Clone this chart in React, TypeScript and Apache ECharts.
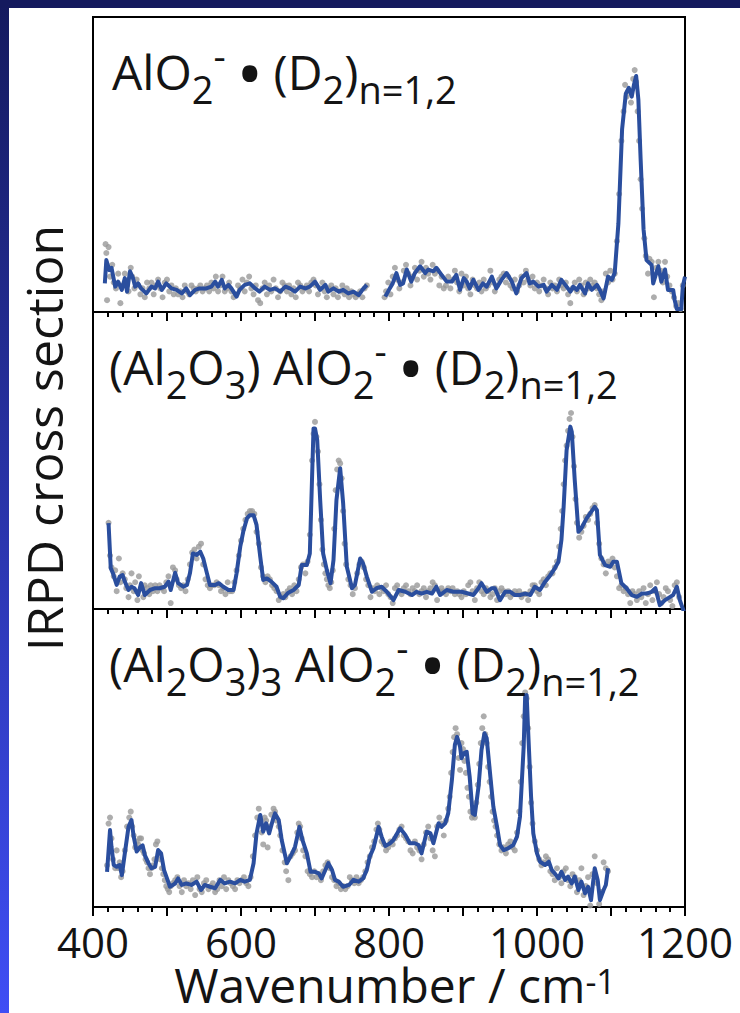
import React, { useEffect, useRef } from "react";
import * as echarts from "echarts";

type Pt = [number, number];

// ---- axis / labels ----
const xMin = 400;
const xMax = 1200;
const xTickLabels = [400, 600, 800, 1000, 1200];
const xAxisTitle = "{a|Wavenumber / cm}{b|-1}";
const yAxisTitle = "IRPD cross section";
const panelTitles = [
  "{m|AlO}{s|2}{p|-}{sp| }{b|•}{sp| }{m|(D}{s|2}{m|)}{s|n=1,2}",
  "{m|(Al}{s|2}{m|O}{s|3}{m|) AlO}{s|2}{p|-}{sp| }{b|•}{sp| }{m|(D}{s|2}{m|)}{s|n=1,2}",
  "{m|(Al}{s|2}{m|O}{s|3}{m|)}{s|3}{m| AlO}{s|2}{p|-}{sp| }{b|•}{sp| }{m|(D}{s|2}{m|)}{s|n=1,2}",
];

// ---- panel 1: AlO2- (D2) ----
const p1LineA: Pt[] = [[416,9.7],[418,17.6],[422,14.2],[425,15],[430,8.6],[434,10.3],[439,7.5],[443,11.5],[446,6.9],[450,13.8],[454,11.5],[457,8.6],[461,9.7],[465,8],[472,6.3],[479,8.6],[484,8],[488,10.3],[493,7.5],[499,9.7],[506,8],[513,7.5],[520,6.3],[526,8],[531,5.7],[538,7.5],[544,8],[553,8],[560,8.6],[565,10.3],[569,8.6],[574,10.9],[578,8],[583,9.2],[587,8],[594,5.2],[598,7.5],[605,9.2],[612,9.7],[619,8],[625,6.9],[632,8.6],[639,7.5],[646,8],[653,6.9],[660,8.6],[666,8],[673,6.9],[680,8.6],[687,8],[693,8.6],[700,10.3],[707,7.5],[714,9.2],[718,6.9],[725,8],[732,6.9],[738,7.5],[745,6.3],[752,6.9],[759,5.7],[764,7.5],[770,9.2]];
const p1LineB: Pt[] = [[795,5.2],[801,8],[805,9.7],[810,13.2],[815,9.2],[819,9.7],[824,14.4],[830,10.3],[835,13.2],[842,15.5],[849,13.2],[853,14.4],[860,13.8],[864,15],[871,12.6],[878,10.3],[885,10.3],[891,12.6],[896,7.5],[901,11.5],[905,10.3],[909,8],[914,10.9],[921,7.5],[927,9.7],[932,8.6],[939,12],[945,8],[952,10.9],[959,13.2],[966,10.3],[972,6.3],[979,11.5],[986,13.2],[990,9.7],[995,10.3],[1002,8.6],[1009,9.2],[1013,6.9],[1020,9.2],[1027,7.5],[1033,10.9],[1040,8.6],[1045,6.9],[1049,8.6],[1054,7.5],[1058,9.2],[1065,6.3],[1069,9.7],[1074,7.5],[1081,9.2],[1085,7.5],[1090,4.6],[1096,12],[1101,10.9],[1105,13.2],[1110,30],[1115,62],[1120,74],[1124,76],[1128,73],[1131,77],[1134,80],[1137,72],[1140,52],[1144,28],[1148,17.6],[1155,15.9],[1157,9.7],[1164,15.5],[1168,10.3],[1173,14.4],[1177,7.5],[1184,7.5],[1186,4.1],[1189,1],[1195,1],[1197,8.6],[1200,12]];
const p1Dots: Pt[] = [[417,23],[418,20],[419,4],[421,22],[423,12],[426,16],[428,10],[431,8],[434,13],[437,3],[440,9],[443,13],[446,9],[448,7],[451,15],[453,12],[456,8],[459,11],[461,9],[464,6],[467,8],[470,5],[473,10],[476,8],[479,10],[482,6],[485,9],[488,11],[491,8],[494,5],[497,10],[500,11],[503,7],[506,9],[509,6],[512,8],[515,6],[518,7],[521,5],[524,9],[527,7],[530,6],[533,9],[536,8],[539,7],[542,8],[545,9],[548,7],[551,8],[554,9],[557,7],[560,10],[563,8],[566,12],[569,7],[572,9],[575,12],[578,7],[581,8],[584,10],[587,7],[590,5],[593,6],[596,9],[599,8],[602,11],[605,7],[608,10],[611,12],[614,8],[617,6],[620,9],[623,4],[626,3],[629,8],[632,10],[635,6],[638,9],[641,7],[644,11],[647,8],[650,5],[653,7],[656,10],[659,9],[662,7],[665,9],[668,6],[671,8],[674,5],[677,10],[680,9],[683,7],[686,8],[689,9],[692,7],[695,10],[698,11],[701,9],[704,6],[707,8],[710,10],[713,7],[716,5],[719,8],[722,9],[725,6],[728,8],[731,5],[734,7],[737,9],[740,6],[743,8],[746,5],[749,7],[752,6],[755,5],[758,6],[761,7],[764,5],[767,8],[770,9],
[794,5],[796,7],[799,10],[802,6],[805,12],[808,15],[811,11],[814,8],[817,10],[820,14],[823,16],[826,13],[829,9],[832,12],[835,15],[838,11],[841,14],[844,17],[847,12],[850,15],[853,13],[856,11],[859,16],[862,13],[865,14],[868,9],[871,12],[874,8],[877,9],[880,12],[883,8],[886,11],[889,14],[892,10],[895,7],[898,13],[901,9],[904,12],[907,8],[910,6],[913,11],[916,9],[919,8],[922,10],[925,7],[928,11],[931,8],[934,9],[937,14],[940,10],[943,7],[946,9],[949,11],[952,12],[955,13],[958,10],[961,12],[964,9],[967,8],[970,11],[973,7],[976,9],[979,12],[982,10],[985,14],[988,11],[991,9],[994,12],[997,8],[1000,10],[1003,7],[1006,9],[1009,11],[1012,8],[1015,6],[1018,10],[1021,8],[1024,9],[1027,7],[1030,11],[1033,9],[1036,8],[1039,10],[1042,6],[1045,3],[1048,8],[1051,10],[1054,7],[1057,11],[1060,9],[1063,6],[1066,10],[1069,8],[1072,11],[1075,9],[1078,10],[1081,8],[1084,6],[1087,4],[1090,7],[1093,13],[1096,10],[1099,14],[1102,11],[1105,13],[1108,24],[1111,40],[1114,58],[1117,68],[1119,77],[1121,73],[1124,75],[1127,71],[1130,79],[1132,82],[1134,78],[1136,68],[1138,58],[1140,45],[1142,35],[1145,25],[1147,19],[1150,13],[1152,18],[1155,17],[1158,5],[1161,15],[1164,17],[1167,14],[1170,10],[1173,17],[1176,12],[1179,9],[1182,7],[1185,5],[1188,2],[1191,3],[1194,1],[1197,9]];

// ---- panel 2: (Al2O3) AlO2- (D2) ----
const p2Line: Pt[] = [[421,28.9],[424,13.7],[427,12],[432,8.1],[436,10.9],[440,11.4],[443,9.2],[448,6.4],[452,7.5],[456,7],[461,4.7],[465,8.7],[470,4.7],[477,6.4],[484,7],[490,7],[497,7.5],[502,9.2],[505,6.4],[511,12.2],[515,8.7],[522,7.5],[527,8.1],[531,12],[535,18.7],[540,18.2],[545,19.3],[549,17],[554,12],[558,8.1],[565,8.1],[570,8.7],[576,7.5],[583,6.4],[590,6.4],[594,12],[599,21],[603,26],[608,30.5],[612,31.6],[617,31.6],[621,28.3],[626,17.6],[630,9.8],[635,10.3],[641,9.2],[648,7.5],[653,4.1],[657,3.6],[664,5.5],[671,6.4],[678,8.1],[682,14.8],[689,14.8],[693,18.7],[698,60.8],[700,60.8],[703,56.9],[707,36.7],[711,18.7],[716,13.1],[721,8.7],[725,16.5],[729,36.7],[734,47.4],[738,35.7],[743,14.2],[750,7],[754,8.1],[761,17],[765,15.3],[770,10.9],[777,5.8],[783,7],[790,7.5],[797,5.8],[806,3],[813,6.4],[822,5.8],[831,4.7],[837,5.8],[844,5.2],[851,5.8],[858,5.2],[864,7.5],[869,4.7],[878,6.4],[887,5.8],[898,5.8],[907,5.2],[914,4.7],[921,7],[925,8.7],[932,5.8],[939,7],[943,7],[950,3],[957,5.8],[964,5.8],[970,4.7],[977,4.7],[984,5.2],[991,4.7],[997,7.5],[1004,6.4],[1011,9.2],[1018,11.4],[1024,13.7],[1029,15.9],[1033,23.2],[1036,34.4],[1040,53.5],[1045,61.4],[1047,59.7],[1051,43.4],[1056,26],[1060,27.2],[1067,30.5],[1078,34.4],[1081,33.3],[1085,18.2],[1092,14.8],[1099,14.2],[1103,15.9],[1108,15.9],[1114,8.7],[1121,7],[1128,4.7],[1135,4.1],[1142,5.2],[1148,5.2],[1155,5.8],[1160,7],[1166,1.3],[1173,3],[1180,4.1],[1184,4.7],[1189,7.5],[1193,3],[1200,-2]];
const p2Dots: Pt[] = [[421,29],[423,18],[425,14],[428,11],[430,13],[432,6],[435,17],[437,9],[440,12],[443,10],[445,7],[448,4],[450,8],[452,12],[455,6],[457,9],[460,3],[462,11],[465,7],[468,4],[470,8],[473,7],[476,5],[478,8],[481,6],[484,8],[487,6],[490,8],[493,7],[496,6],[499,9],[502,11],[505,2],[508,14],[511,13],[513,10],[516,8],[519,7],[522,8],[525,6],[528,10],[531,15],[534,19],[537,20],[540,17],[543,21],[546,22],[549,15],[552,10],[555,8],[558,7],[561,8],[564,8],[567,9],[570,8],[573,6],[576,7],[579,5],[582,9],[585,6],[588,6],[591,9],[594,13],[597,18],[600,23],[603,27],[606,30],[609,32],[612,33],[615,33],[618,32],[621,26],[624,22],[627,14],[630,11],[633,9],[636,11],[639,10],[642,8],[645,7],[648,6],[651,3],[654,4],[657,5],[660,4],[663,6],[666,7],[669,5],[672,8],[675,6],[678,10],[681,14],[684,15],[687,12],[690,16],[693,25],[696,50],[698,59],[700,63],[702,58],[704,53],[706,42],[708,30],[710,20],[712,15],[714,12],[716,10],[718,8],[720,7],[722,9],[724,13],[726,27],[728,40],[730,47],[732,50],[734,49],[736,44],[738,33],[740,22],[742,15],[745,10],[748,8],[751,5],[754,7],[757,12],[760,15],[763,16],[766,14],[769,10],[772,8],[775,4],[778,7],[781,6],[784,8],[787,5],[790,7],[793,6],[796,8],[799,5],[802,4],[805,2],[808,7],[811,8],[814,6],[817,5],[820,7],[823,8],[826,6],[829,5],[832,7],[835,6],[838,8],[841,5],[844,6],[847,7],[850,4],[853,6],[856,7],[859,9],[862,8],[865,3],[868,6],[871,7],[874,6],[877,5],[880,7],[883,6],[886,7],[889,5],[892,6],[895,5],[898,4],[901,6],[904,5],[907,8],[910,9],[913,6],[916,3],[919,7],[922,9],[925,6],[928,5],[931,7],[934,6],[937,4],[940,5],[943,7],[946,3],[949,6],[952,7],[955,6],[958,5],[961,6],[964,4],[967,5],[970,6],[973,5],[976,6],[979,4],[982,5],[985,5],[988,3],[991,6],[994,8],[997,8],[1000,6],[1003,5],[1006,9],[1009,10],[1012,8],[1015,11],[1018,12],[1021,12],[1024,14],[1027,16],[1030,21],[1032,27],[1034,33],[1036,42],[1038,50],[1040,55],[1042,60],[1044,64],[1046,66],[1048,58],[1050,48],[1052,37],[1054,29],[1057,24],[1060,26],[1063,28],[1066,31],[1069,30],[1072,32],[1075,34],[1078,35],[1081,29],[1084,22],[1087,17],[1090,15],[1093,12],[1096,16],[1099,15],[1102,17],[1105,14],[1108,11],[1111,7],[1114,8],[1117,6],[1120,7],[1123,5],[1126,2],[1129,6],[1132,5],[1135,3],[1138,6],[1141,4],[1144,7],[1147,2],[1150,5],[1153,8],[1156,3],[1159,6],[1162,9],[1165,5],[1168,2],[1171,4],[1174,7],[1177,6],[1180,3],[1183,1],[1186,8],[1189,9],[1192,4]];

// ---- panel 3: (Al2O3)3 AlO2- (D2) ----
const p3Line: Pt[] = [[419,11.8],[423,25.8],[425,20.2],[428,14.1],[432,13.5],[436,14.1],[439,10.7],[443,18],[448,26.9],[452,29.2],[455,23.6],[459,18.6],[464,20.2],[467,20.7],[470,17.4],[475,14.7],[479,13],[484,13.5],[488,19.1],[492,18],[496,12.4],[500,9.6],[504,6.8],[511,7.9],[515,9.6],[520,7.4],[526,7.9],[533,7.4],[540,8.5],[546,5.7],[551,7.4],[558,6.8],[565,6.3],[572,9.1],[578,7.9],[585,8.5],[592,7.9],[599,9.1],[605,8.5],[612,9.1],[617,14.7],[621,24.7],[626,30.9],[630,25.3],[634,28.1],[638,24.7],[643,29.2],[646,31.4],[651,29.2],[655,22.5],[662,14.7],[669,18],[673,20.2],[679,26.9],[683,22.5],[689,18],[694,11.8],[700,11.8],[705,11.3],[709,9.6],[714,12.4],[718,14.7],[723,12.4],[727,9.1],[732,8.5],[738,6.8],[746,7.4],[752,9.1],[759,8.5],[765,9.6],[770,12.4],[774,16.9],[779,19.7],[786,26.9],[790,23.6],[795,20.5],[801,21.3],[806,22.5],[815,26.4],[822,24.2],[828,21.4],[835,21.4],[840,20.8],[844,18],[851,25.3],[856,24.7],[860,21.4],[867,28.1],[871,26.9],[876,28.1],[880,31.4],[885,42.6],[889,54.4],[892,57.1],[896,53.8],[898,49.9],[901,51.6],[905,52.1],[909,43.7],[913,31.4],[916,30.9],[921,40.4],[925,52.7],[929,58.3],[932,56.7],[937,43.7],[941,33.7],[946,26.9],[950,20.8],[955,19.1],[961,19.7],[968,20.8],[973,23.6],[977,30.3],[982,53.8],[984,70.6],[986,71.1],[988,59.4],[992,37],[995,24.7],[1000,18],[1004,15.2],[1011,14.1],[1016,15.2],[1020,12.4],[1024,11.3],[1029,9.6],[1033,11.8],[1038,9.1],[1042,10.2],[1047,7.9],[1051,10.2],[1056,5.7],[1060,8.5],[1065,4.6],[1069,6.8],[1073,2.3],[1078,13],[1082,9.1],[1085,2.3],[1090,5.7],[1093,7.4],[1096,13]];
const p3Dots: Pt[] = [[419,14],[421,28],[423,30],[425,23],[427,16],[430,13],[432,19],[434,13],[436,15],[438,10],[440,12],[443,19],[446,27],[449,30],[451,32],[453,27],[455,24],[457,20],[459,22],[461,21],[463,23],[465,23],[467,19],[469,18],[471,16],[473,15],[475,13],[477,11],[479,13],[481,14],[483,16],[485,21],[487,22],[489,18],[491,16],[493,13],[495,11],[497,9],[499,7],[501,6],[503,5],[505,7],[508,8],[511,9],[514,10],[517,7],[520,5],[523,9],[526,7],[529,8],[532,6],[535,9],[538,4],[541,10],[544,6],[547,5],[550,8],[553,9],[556,6],[559,7],[562,8],[565,5],[568,6],[571,9],[574,7],[577,10],[580,6],[583,9],[586,8],[589,7],[592,6],[595,9],[598,8],[601,9],[604,10],[607,8],[610,7],[613,10],[616,17],[619,24],[622,30],[624,33],[626,28],[628,25],[630,21],[632,30],[634,29],[636,20],[638,27],[641,31],[644,33],[646,32],[648,29],[651,27],[653,24],[656,19],[659,15],[661,12],[664,9],[667,17],[670,18],[673,19],[676,25],[678,28],[680,27],[682,23],[684,19],[687,17],[690,12],[693,11],[696,10],[699,12],[702,10],[705,11],[708,9],[711,12],[714,14],[717,15],[720,13],[723,10],[726,9],[729,7],[732,8],[735,6],[738,7],[741,6],[744,7],[747,10],[750,9],[753,8],[756,10],[759,8],[762,9],[765,10],[768,12],[771,15],[774,17],[777,20],[780,22],[783,26],[785,28],[787,26],[790,22],[793,21],[796,19],[799,20],[802,22],[805,21],[808,23],[811,24],[814,26],[817,27],[820,24],[823,23],[826,22],[829,19],[832,18],[835,22],[838,20],[841,19],[844,16],[847,21],[850,25],[853,27],[856,23],[859,19],[862,17],[865,27],[868,30],[871,28],[874,24],[877,29],[880,33],[882,37],[884,45],[886,52],[888,57],[890,60],[892,58],[894,50],[896,46],[898,55],[900,53],[902,49],[904,45],[906,40],[908,37],[910,32],[912,30],[914,31],[916,30],[918,35],[920,41],[922,48],[924,55],[926,60],[928,64],[930,58],[932,55],[934,47],[936,42],[938,37],[940,32],[942,29],[944,27],[946,24],[949,21],[952,19],[955,20],[958,18],[961,21],[964,22],[967,20],[970,19],[973,25],[976,32],[978,42],[980,55],[982,64],[984,72],[986,70],[988,60],[990,47],[992,35],[994,28],[997,22],[1000,19],[1003,16],[1006,14],[1009,15],[1012,17],[1015,16],[1018,12],[1021,11],[1024,9],[1027,13],[1030,10],[1033,8],[1036,12],[1039,13],[1042,9],[1045,7],[1048,11],[1051,10],[1054,5],[1057,9],[1060,13],[1063,4],[1066,7],[1069,10],[1072,0.5],[1075,11],[1078,17],[1081,8],[1084,1],[1087,5],[1090,15],[1093,13],[1096,12]];

const FONT = "'Open Sans', 'Noto Sans', sans-serif";
const LINE_COLOR = "#2a4e9e";
const DOT_COLOR = "#999999";
const TEXT_COLOR = "#141414";

const gridTops = [17, 312, 609];
const gridHeights = [295, 297, 298];

function buildOption(): echarts.EChartsOption {
  const grids = gridTops.map((t, i) => ({
    left: 93,
    right: 55,
    top: t,
    height: gridHeights[i],
    show: true,
    borderColor: "#000",
    borderWidth: 2,
    backgroundColor: "transparent",
  }));
  const xAxes = gridTops.map((_, i) => ({
    type: "value" as const,
    gridIndex: i,
    min: xMin,
    max: xMax,
    interval: 100,
    axisLine: { show: true, onZero: false, lineStyle: { color: "#000", width: 2 } },
    axisTick: { show: true, length: 9, lineStyle: { color: "#000", width: 2 } },
    minorTick: { show: true, splitNumber: 5, length: 5, lineStyle: { color: "#000", width: 2 } },
    splitLine: { show: false },
    axisLabel:
      i === 2
        ? {
            show: true,
            margin: 13,
            fontSize: 42,
            fontFamily: FONT,
            color: TEXT_COLOR,
            showMinLabel: true,
            showMaxLabel: true,
            formatter: (v: number) => (xTickLabels.includes(v) ? String(v) : ""),
          }
        : { show: false },
  }));
  const yAxes = gridTops.map((_, i) => ({
    type: "value" as const,
    gridIndex: i,
    min: 0,
    max: 100,
    show: false,
  }));

  const dotSeries = (data: Pt[], i: number) => ({
    type: "scatter" as const,
    xAxisIndex: i,
    yAxisIndex: i,
    data,
    symbolSize: 6,
    itemStyle: { color: DOT_COLOR },
    z: 2,
    silent: true,
  });
  const lineSeries = (data: Pt[], i: number) => ({
    type: "line" as const,
    xAxisIndex: i,
    yAxisIndex: i,
    data,
    showSymbol: false,
    symbol: "none",
    lineStyle: { color: LINE_COLOR, width: 4, join: "round" as const },
    z: 3,
    clip: true,
    silent: true,
  });

  const richTitle = {
    m: { fontSize: 48, fontFamily: FONT, fill: TEXT_COLOR, lineHeight: 72 },
    b: { fontSize: 72, fontFamily: FONT, fill: TEXT_COLOR, lineHeight: 72 },
    sp: { fontSize: 40, fontFamily: FONT, fill: TEXT_COLOR, lineHeight: 40 },
    s: { fontSize: 38, fontFamily: FONT, fill: TEXT_COLOR, lineHeight: 38, verticalAlign: "bottom" },
    p: { fontSize: 38, fontFamily: FONT, fill: TEXT_COLOR, lineHeight: 38, verticalAlign: "top" },
  };

  const titleGraphics = panelTitles.map((t, i) => ({
    type: "text" as const,
    x: i === 0 ? 112 : 109,
    y: gridTops[i] + 18.5,
    z: 10,
    style: {
      text: t,
      rich: richTitle,
      align: "left",
      verticalAlign: "top",
    },
  }));

  return {
    animation: false,
    backgroundColor: "#ffffff",
    grid: grids,
    xAxis: xAxes,
    yAxis: yAxes,
    series: [
      dotSeries(p1Dots, 0),
      lineSeries(p1LineA, 0),
      lineSeries(p1LineB, 0),
      dotSeries(p2Dots, 1),
      lineSeries(p2Line, 1),
      dotSeries(p3Dots, 2),
      lineSeries(p3Line, 2),
    ],
    graphic: [
      {
        type: "rect",
        shape: { x: 0, y: 0, width: 9, height: 1013 },
        style: {
          fill: new echarts.graphic.LinearGradient(0, 0, 0, 1, [
            { offset: 0, color: "#141a5e" },
            { offset: 1, color: "#3f4ef5" },
          ]),
        },
        z: 20,
      },
      {
        type: "rect",
        shape: { x: 0, y: 0, width: 740, height: 8 },
        style: { fill: "#141a5e" },
        z: 21,
      },
      ...titleGraphics,
      {
        type: "text",
        x: 395,
        y: 964,
        z: 10,
        style: {
          text: xAxisTitle,
          align: "center",
          verticalAlign: "top",
          rich: {
            a: { fontSize: 48, fontFamily: FONT, fill: TEXT_COLOR, lineHeight: 40 },
            b: { fontSize: 34, fontFamily: FONT, fill: TEXT_COLOR, lineHeight: 16, verticalAlign: "top" },
          },
        },
      },
      {
        type: "text",
        x: 44,
        y: 438,
        rotation: Math.PI / 2,
        z: 10,
        style: {
          text: yAxisTitle,
          fontSize: 50,
          fontFamily: FONT,
          fill: TEXT_COLOR,
          align: "center",
          verticalAlign: "middle",
        },
      },
    ],
  } as echarts.EChartsOption;
}

export default function App() {
  const ref = useRef<HTMLDivElement>(null);
  useEffect(() => {
    if (!ref.current) return;
    const chart = echarts.init(ref.current, null, { renderer: "svg" });
    chart.setOption(buildOption());
    return () => chart.dispose();
  }, []);
  return (
    <div
      ref={ref}
      style={{ position: "fixed", left: 0, top: 0, width: 740, height: 1013, background: "#fff" }}
    />
  );
}
